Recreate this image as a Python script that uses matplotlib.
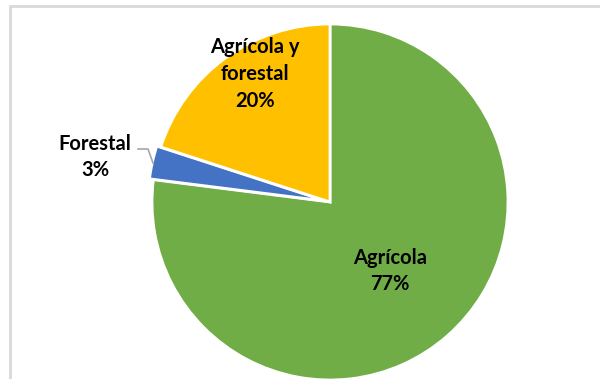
import matplotlib.pyplot as plt
from matplotlib.patches import Rectangle

labels = ['Agrícola', 'Forestal', 'Agrícola y\nforestal']
shares = [77, 3, 20]
colors = ['#70AD47', '#4472C4', '#FFC000']

W, H = 600, 379

fig = plt.figure(figsize=(6, 3.79), dpi=100)
ax = fig.add_axes([0, 0, 1, 1])
ax.set_xlim(0, W)
ax.set_ylim(0, H)
ax.set_aspect('equal')
ax.axis('off')

# chart area border (runs off the right and bottom edges)
ax.add_patch(Rectangle((10, -20), 620, H - 6 + 20, fill=False,
                       edgecolor='#D9D9D9', linewidth=2))

cx, cy, r = 330, H - 202, 178
wedges, _ = ax.pie(shares, colors=colors, startangle=90, counterclock=False,
                   center=(cx, cy), radius=r, explode=[0, 4, 0],
                   wedgeprops=dict(edgecolor='white', linewidth=2))
ax.set_xlim(0, W)
ax.set_ylim(0, H)

font = dict(family=['Lato', 'DejaVu Sans'], fontweight='bold', fontsize=14.5,
            ha='center', va='center', linespacing=1.42)
ax.text(390, H - 271, f'{labels[0]}\n{shares[0]}%', **font)
ax.text(255, H - 74, f'{labels[2]}\n{shares[2]}%', **font)
ax.text(95, H - 157, f'{labels[1]}\n{shares[1]}%', **font)

# leader line for the small slice
ax.plot([138, 148, 153], [H - 149, H - 149, H - 163], color='#A6A6A6', lw=1.2)

fig.savefig('out.png', dpi=100)
